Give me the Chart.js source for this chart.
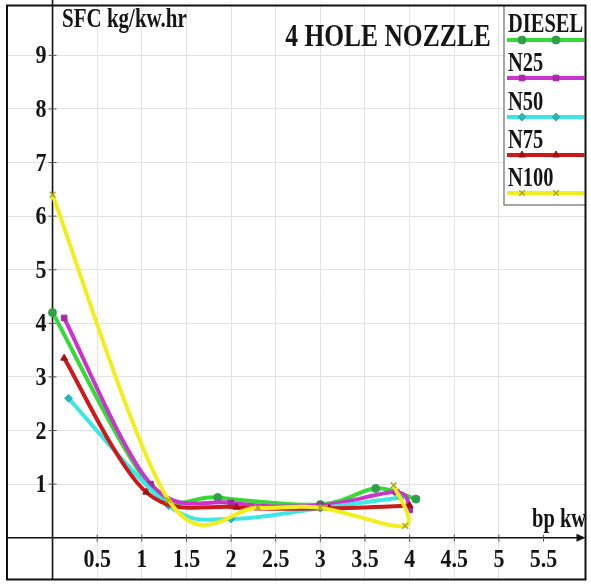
<!DOCTYPE html>
<html>
<head>
<meta charset="utf-8">
<script src="https://cdn.jsdelivr.net/npm/chart.js@4.4.1/dist/chart.umd.min.js"></script>
<style>
html,body{margin:0;padding:0;background:#fff;}
#wrap{position:relative;width:591px;height:585px;}
</style>
</head>
<body>
<div id="wrap"><canvas id="c" width="591" height="585"></canvas></div>
<script>
// ---- data ----
const seriesNames = ["DIESEL", "N25", "N50", "N75", "N100"];
const dieselX = [0, 1.1, 1.85, 3.0, 3.62, 4.07];
const dieselY = [4.2, 0.95, 0.75, 0.62, 0.92, 0.72];
const n25X = [0.13, 1.1, 2.0, 3.0, 3.85, 4.0];
const n25Y = [4.1, 1.0, 0.65, 0.6, 0.85, 0.52];
const n50X = [0.18, 1.3, 2.0, 3.0, 3.9];
const n50Y = [2.6, 0.6, 0.35, 0.55, 0.75];
const n75X = [0.13, 1.05, 2.06, 3.1, 4.0];
const n75Y = [3.35, 0.85, 0.57, 0.55, 0.6];
const n100X = [0, 1.3, 2.3, 3.0, 3.95, 3.82];
const n100Y = [6.4, 0.7, 0.56, 0.56, 0.22, 0.98];
const xTickValues = [0.5, 1, 1.5, 2, 2.5, 3, 3.5, 4, 4.5, 5, 5.5];
const xTickLabels = ["0.5", "1", "1.5", "2", "2.5", "3", "3.5", "4", "4.5", "5", "5.5"];
const yTickValues = [1, 2, 3, 4, 5, 6, 7, 8, 9];
const yTickLabels = ["1", "2", "3", "4", "5", "6", "7", "8", "9"];
const chartTitle = "4 HOLE NOZZLE";
const yAxisTitle = "SFC kg/kw.hr";
const xAxisTitle = "bp kw";

const lineColors = ["#36d936", "#cc33cc", "#3ee6e6", "#cc1a1a", "#f2ee1e"];
const markColors = ["#2f9f4a", "#a52aa5", "#2fb3b3", "#9e1212", "#a8a820"];
const markStyles = ["circle", "rect", "rectRot", "triangle", "crossRot"];
const drawOrder = [5, 4, 3, 2, 1];

function zip(xs, ys){ return xs.map((x,i)=>({x:x, y:ys[i]})); }
const allX = [dieselX, n25X, n50X, n75X, n100X];
const allY = [dieselY, n25Y, n50Y, n75Y, n100Y];

const datasets = seriesNames.map((name, i) => ({
  label: name,
  data: zip(allX[i], allY[i]),
  showLine: true,
  borderColor: lineColors[i],
  backgroundColor: markColors[i],
  pointBorderColor: markColors[i],
  pointBackgroundColor: markColors[i],
  pointStyle: markStyles[i],
  pointRadius: 4,
  pointBorderWidth: markStyles[i] === "crossRot" ? 1.5 : 1,
  borderWidth: 4,
  tension: 0.4,
  order: drawOrder[i]
}));

// uniform Catmull-Rom smoothing (like the original "smooth line" chart)
const catmull = {
  id: 'catmull',
  beforeDatasetDraw(chart, args){
    const meta = args.meta;
    const line = meta.dataset;
    const pts = meta.data;
    if (!line || pts.length < 2) return;
    const n = pts.length;
    for (let i = 0; i < n; i++) {
      const p = pts[i];
      const a = pts[Math.max(0, i - 1)];
      const b = pts[Math.min(n - 1, i + 1)];
      const tx = (b.x - a.x) / 6, ty = (b.y - a.y) / 6;
      p.cp1x = p.x - tx; p.cp1y = p.y - ty;
      p.cp2x = p.x + tx; p.cp2y = p.y + ty;
    }
    line._pointsUpdated = true;
    line._path = undefined;
  }
};

const SERIF = '"Liberation Serif", "Times New Roman", serif';
function sText(ctx, text, x, y, size, align, sy){
  ctx.save();
  ctx.font = 'bold ' + size + 'px ' + SERIF;
  ctx.fillStyle = '#151515';
  ctx.textAlign = align;
  ctx.textBaseline = 'alphabetic';
  ctx.translate(x, y);
  ctx.scale(1, sy);
  ctx.fillText(text, 0, 0);
  ctx.restore();
}

const decor = {
  id: 'decor',
  beforeDatasetsDraw(chart){
    const ctx = chart.ctx, xs = chart.scales.x, ys = chart.scales.y, a = chart.chartArea;
    const x0 = xs.getPixelForValue(0), y0 = ys.getPixelForValue(0);
    ctx.save();
    ctx.strokeStyle = '#111';
    ctx.lineWidth = 1.6;
    ctx.beginPath(); ctx.moveTo(x0, 0); ctx.lineTo(x0, a.bottom); ctx.stroke();
    ctx.beginPath(); ctx.moveTo(a.left, y0); ctx.lineTo(a.right - 2, y0); ctx.stroke();
    ctx.fillStyle = '#111';
    ctx.beginPath(); ctx.moveTo(a.right, y0); ctx.lineTo(a.right - 9, y0 - 4); ctx.lineTo(a.right - 9, y0 + 4); ctx.closePath(); ctx.fill();
    ctx.lineWidth = 1;
    ctx.strokeStyle = '#555';
    yTickValues.forEach(v => { const p = ys.getPixelForValue(v); ctx.beginPath(); ctx.moveTo(x0 - 4, p); ctx.lineTo(x0 + 4, p); ctx.stroke(); });
    xTickValues.forEach(v => { const p = xs.getPixelForValue(v); ctx.beginPath(); ctx.moveTo(p, y0 - 3); ctx.lineTo(p, y0 + 4); ctx.stroke(); });
    ctx.restore();
  },
  afterDraw(chart){
    const ctx = chart.ctx, xs = chart.scales.x, ys = chart.scales.y, a = chart.chartArea;
    const x0 = xs.getPixelForValue(0), y0 = ys.getPixelForValue(0);
    yTickValues.forEach((v, i) => { const p = ys.getPixelForValue(v); sText(ctx, yTickLabels[i], x0 - 6, p + 8, 22, 'right', 1.15); });
    xTickValues.forEach((v, i) => { const p = xs.getPixelForValue(v); sText(ctx, xTickLabels[i], p, y0 + 29, 22, 'center', 1.15); });
    sText(ctx, yAxisTitle, 62, 27, 21, 'left', 1.3);
    sText(ctx, chartTitle, 388, 46, 25.5, 'center', 1.2);
    sText(ctx, xAxisTitle, 532, 527, 20.5, 'left', 1.3);
    ctx.save();
    ctx.fillStyle = '#fff';
    ctx.fillRect(504, a.top, a.right - 504, 205 - a.top);
    ctx.strokeStyle = '#8a8a8a'; ctx.lineWidth = 1.5;
    ctx.beginPath(); ctx.moveTo(504, a.top); ctx.lineTo(504, 205); ctx.lineTo(a.right, 205); ctx.stroke();
    ctx.restore();
    const textBase = [32, 71, 110, 148, 186];
    const lineY = [40, 78, 117, 155, 193];
    seriesNames.forEach((name, i) => {
      sText(ctx, name, 508, textBase[i], 20.5, 'left', 1.32);
      ctx.save();
      ctx.strokeStyle = lineColors[i]; ctx.lineWidth = 4;
      ctx.beginPath(); ctx.moveTo(507, lineY[i]); ctx.lineTo(a.right - 1, lineY[i]); ctx.stroke();
      ctx.fillStyle = markColors[i]; ctx.strokeStyle = markColors[i];
      ctx.lineWidth = markStyles[i] === 'crossRot' ? 1.5 : 1;
      [522, 556].forEach(px => Chart.helpers.drawPoint(ctx, {pointStyle: markStyles[i], radius: 4, rotation: 0, borderWidth: 1}, px, lineY[i]));
      ctx.restore();
    });
    ctx.save();
    ctx.strokeStyle = '#111'; ctx.lineWidth = 2;
    ctx.strokeRect(a.left, a.top, a.right - a.left, a.bottom - a.top);
    ctx.restore();
  }
};

new Chart(document.getElementById('c'), {
  type: 'scatter',
  data: { datasets: datasets },
  options: {
    responsive: false,
    animation: false,
    layout: { padding: { left: 7, top: 5, right: 3, bottom: 5 } },
    plugins: { legend: { display: false }, tooltip: { enabled: false }, title: { display: false } },
    scales: {
      x: {
        type: 'linear', min: -0.51, max: 5.97,
        ticks: { display: false, stepSize: 0.5 },
        grid: { color: '#e2e2e2', drawTicks: false, lineWidth: 1 },
        border: { display: false }
      },
      y: {
        type: 'linear', min: -0.78, max: 9.93,
        ticks: { display: false, stepSize: 1 },
        grid: { color: '#e2e2e2', drawTicks: false, lineWidth: 1 },
        border: { display: false }
      }
    }
  },
  plugins: [catmull, decor]
});
</script>
</body>
</html>
